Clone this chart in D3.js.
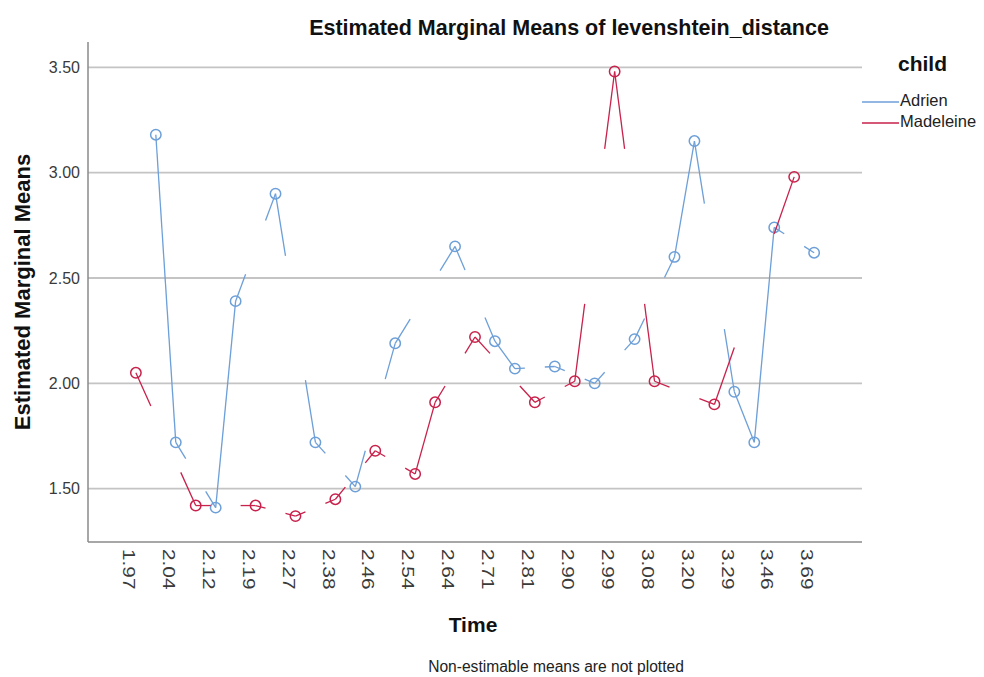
<!DOCTYPE html>
<html>
<head>
<meta charset="utf-8">
<script src="https://cdn.jsdelivr.net/npm/d3@7"></script>
<style>
  html, body { margin: 0; padding: 0; background: #fff; }
  svg { display: block; font-family: "Liberation Sans", Arial, sans-serif; }
</style>
</head>
<body>
<svg id="chart" width="984" height="677"></svg>
<script>
// Time categories (odd positions are unlabelled on the axis; their values are estimates)
const categories = ["1.97","2.00","2.04","2.08","2.12","2.15","2.19","2.23","2.27","2.32",
                    "2.38","2.42","2.46","2.50","2.54","2.59","2.64","2.67","2.71","2.76",
                    "2.81","2.85","2.90","2.95","2.99","3.04","3.08","3.14","3.20","3.25",
                    "3.29","3.38","3.46","3.58","3.69"];
const tickLabels = ["1.97","2.04","2.12","2.19","2.27","2.38","2.46","2.54","2.64",
                    "2.71","2.81","2.90","2.99","3.08","3.20","3.29","3.46","3.69"];
const yTicks = [1.5, 2.0, 2.5, 3.0, 3.5];
const seriesNames = ["Adrien", "Madeleine"];
const adrien = [null, 3.18, 1.72, null, 1.41, 2.39, null, 2.90, null, 1.72,
                null, 1.51, null, 2.19, null, null, 2.65, null, 2.20, 2.07,
                null, 2.08, null, 2.00, null, 2.21, null, 2.60, 3.15, null,
                1.96, 1.72, 2.74, null, 2.62];
const madeleine = [2.05, null, null, 1.42, null, null, 1.42, null, 1.37, null,
                   1.45, null, 1.68, null, 1.57, 1.91, null, 2.22, null, null,
                   1.91, null, 2.01, null, 3.48, null, 2.01, null, null, 1.90,
                   null, null, null, 2.98, null];
const colors = ["#6d9fd8", "#c8214b"];

const svg = d3.select("#chart");
const pLeft = 88, pRight = 862, pTop = 42, pBottom = 542;

const x = d3.scalePoint().domain(categories).range([pLeft, pRight]).padding(2.4);
const y = d3.scaleLinear().domain([1.247, 3.62]).range([pBottom, pTop]);

// gridlines
svg.append("g").selectAll("line").data(yTicks).join("line")
  .attr("x1", pLeft).attr("x2", pRight)
  .attr("y1", d => y(d)).attr("y2", d => y(d))
  .attr("stroke", "#c4c4c4").attr("stroke-width", 1.8);

// y tick labels
svg.append("g").selectAll("text").data(yTicks).join("text")
  .attr("x", 80).attr("y", d => y(d)).attr("dy", "0.36em")
  .attr("text-anchor", "end").attr("font-size", 16).attr("fill", "#3a3a3a")
  .text(d => d.toFixed(2));

// x tick labels (every other category)
const labelled = categories.filter((c, i) => i % 2 === 0);
svg.append("g").selectAll("text").data(labelled).join("text")
  .attr("transform", (d) => `translate(${x(d) - 7},549) rotate(90) scale(1.3,1)`)
  .attr("dy", "0.36em")
  .attr("text-anchor", "start").attr("font-size", 16).attr("fill", "#3a3a3a")
  .text((d, i) => tickLabels[i]);

// axes lines
svg.append("line").attr("x1", pLeft).attr("x2", pLeft).attr("y1", pTop).attr("y2", pBottom)
  .attr("stroke", "#8a8a8a").attr("stroke-width", 1.5);
svg.append("line").attr("x1", pLeft).attr("x2", pRight).attr("y1", pBottom).attr("y2", pBottom)
  .attr("stroke", "#8a8a8a").attr("stroke-width", 1.5);

// series
const seriesData = [adrien, madeleine];
seriesData.forEach((vals, s) => {
  const pts = [];
  vals.forEach((v, i) => { if (v !== null) pts.push({i, v, px: x(categories[i]), py: y(v)}); });
  const g = svg.append("g");
  const segs = [];
  for (let j = 0; j < pts.length - 1; j++) {
    const a = pts[j], b = pts[j + 1];
    const k = b.i - a.i;
    if (k === 1) {
      segs.push([a.px, a.py, b.px, b.py]);
    } else {
      const f = 0.25;
      segs.push([a.px, a.py, a.px + f * (b.px - a.px), a.py + f * (b.py - a.py)]);
      segs.push([b.px, b.py, b.px + f * (a.px - b.px), b.py + f * (a.py - b.py)]);
    }
  }
  g.selectAll("line").data(segs).join("line")
    .attr("x1", d => d[0]).attr("y1", d => d[1]).attr("x2", d => d[2]).attr("y2", d => d[3])
    .attr("stroke", colors[s]).attr("stroke-width", 1.3);
  g.selectAll("circle").data(pts).join("circle")
    .attr("cx", d => d.px).attr("cy", d => d.py).attr("r", 5.2)
    .attr("fill", "none").attr("stroke", colors[s]).attr("stroke-width", 1.5);
});

// titles
svg.append("text").attr("x", 569).attr("y", 35).attr("text-anchor", "middle")
  .attr("font-size", 21.5).attr("font-weight", "bold").attr("fill", "#111")
  .text("Estimated Marginal Means of levenshtein_distance");
svg.append("text").attr("transform", "translate(30,292) rotate(-90)")
  .attr("text-anchor", "middle").attr("font-size", 22).attr("font-weight", "bold").attr("fill", "#111")
  .text("Estimated Marginal Means");
svg.append("text").attr("x", 473).attr("y", 632).attr("text-anchor", "middle")
  .attr("font-size", 21).attr("font-weight", "bold").attr("fill", "#111")
  .text("Time");
svg.append("text").attr("x", 556).attr("y", 672).attr("text-anchor", "middle")
  .attr("font-size", 15.6).attr("fill", "#222")
  .text("Non-estimable means are not plotted");

// legend
svg.append("text").attr("x", 898).attr("y", 71)
  .attr("font-size", 21).attr("font-weight", "bold").attr("fill", "#111").text("child");
const lg = svg.append("g").selectAll("g").data(seriesNames).join("g")
  .attr("transform", (d, i) => `translate(0,${106 + i * 21})`);
lg.append("line").attr("x1", 862).attr("x2", 899).attr("y1", -4).attr("y2", -4)
  .attr("stroke", (d, i) => colors[i]).attr("stroke-width", 1.3);
lg.append("text").attr("x", 900).attr("y", 0).attr("font-size", 16.5).attr("fill", "#222")
  .text(d => d);
</script>
</body>
</html>
